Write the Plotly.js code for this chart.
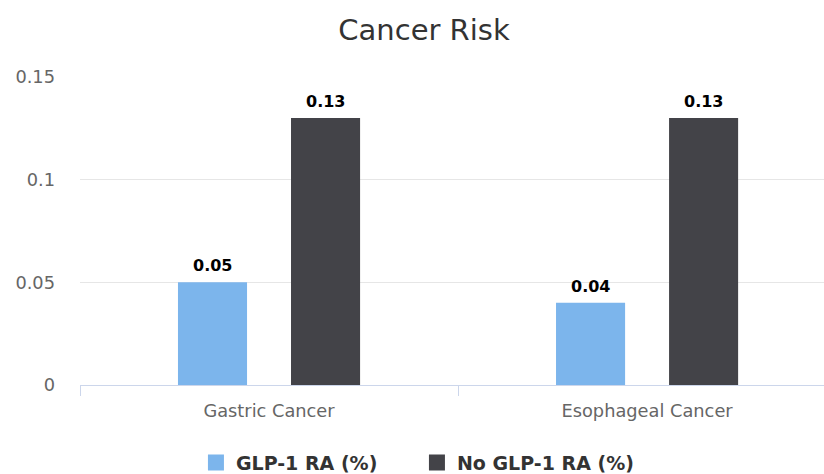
<!DOCTYPE html>
<html>
<head>
<meta charset="utf-8">
<script src="https://cdn.plot.ly/plotly-3.0.1.min.js"></script>
<style>html,body{margin:0;padding:0;background:#fff;}#chart{width:824px;height:474px;}</style>
</head>
<body>
<div id="chart"></div>
<script>
const categories = ["Gastric Cancer", "Esophageal Cancer"];
const seriesNames = ["GLP-1 RA (%)", "No GLP-1 RA (%)"];
const glpValues = [0.05, 0.04];
const noGlpValues = [0.13, 0.13];
const yTickVals = [0, 0.05, 0.1, 0.15];
const yTickText = ["0", "0.05", "0.1", "0.15"];
const colors = ["#7cb5ec", "#434348"];

const FONT = "DejaVu Sans, Verdana, sans-serif";
const seriesValues = [glpValues, noGlpValues];

const traces = [];
seriesValues.forEach((vals, i) => {
  traces.push({
    type: "bar", name: seriesNames[i], x: categories, y: vals,
    marker: {color: colors[i]}, showlegend: false, hoverinfo: "none"
  });
});
// legend-only entries with larger square symbols
seriesValues.forEach((vals, i) => {
  traces.push({
    type: "scatter", mode: "markers", name: seriesNames[i],
    x: [null], y: [null],
    marker: {symbol: "square", size: 20, color: colors[i]},
    showlegend: true, hoverinfo: "none"
  });
});

// data labels as annotations over each bar (bar centre offset within its group)
const groupOffset = 0.1495;
const annotations = [];
seriesValues.forEach((vals, i) => {
  vals.forEach((v, j) => {
    annotations.push({
      x: j + (i === 0 ? -1 : 1) * groupOffset, xref: "x", y: v, yref: "y",
      text: "<b>" + v + "</b>", showarrow: false,
      yanchor: "bottom", yshift: 5,
      font: {family: FONT, size: 16, color: "#000"}
    });
  });
});

const layout = {
  width: 824, height: 474,
  margin: {l: 80, r: 0, t: 77, b: 89, autoexpand: false},
  paper_bgcolor: "#fff", plot_bgcolor: "#fff",
  font: {family: FONT, color: "#666"},
  title: {text: "Cancer Risk", font: {family: FONT, size: 29, color: "#333"},
          x: 0.5146, xanchor: "center", xref: "container",
          y: 0.937, yanchor: "middle", yref: "container"},
  barmode: "group", bargap: 0.402, bargroupgap: 0.389,
  xaxis: {
    type: "category", range: [-0.5, 1.468], fixedrange: true,
    showline: true, linecolor: "#ccd6eb", linewidth: 1,
    ticks: "outside", tickson: "boundaries", ticklen: 10, tickcolor: "#ccd6eb",
    tickfont: {family: FONT, size: 17.8, color: "#666"},
    ticklabelstandoff: 10,
    showgrid: false, zeroline: false
  },
  yaxis: {
    range: [0, 0.15], fixedrange: true,
    tickvals: yTickVals, ticktext: yTickText,
    tickfont: {family: FONT, size: 17.8, color: "#666"},
    gridcolor: "#e6e6e6", gridwidth: 1, zeroline: false, showline: false,
    ticklabelstandoff: 24
  },
  annotations: annotations,
  showlegend: true,
  legend: {orientation: "h", xref: "container", x: 0.506, xanchor: "center",
           y: -0.252, yanchor: "middle", entrywidth: 176, entrywidthmode: "pixels",
           font: {family: FONT, size: 19, color: "#333", weight: "bold"},
           traceorder: "normal", itemclick: false}
};

Plotly.newPlot("chart", traces, layout, {displayModeBar: false, staticPlot: true});
</script>
</body>
</html>
